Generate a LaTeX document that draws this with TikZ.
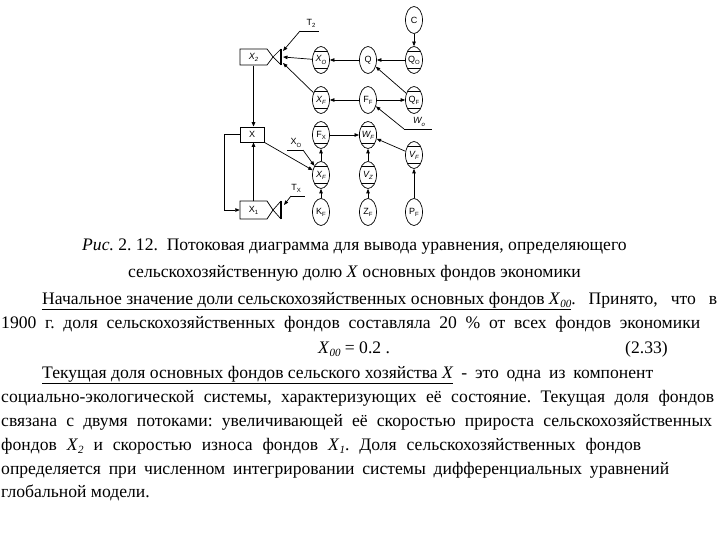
\documentclass[tikz,border=0pt]{standalone}
\usepackage{fontspec}
\setmainfont{Liberation Serif}
\setsansfont{Liberation Sans}
\usetikzlibrary{arrows.meta,shapes.geometric}
\newcommand\sbx[1]{\raisebox{-0.45ex}{\fontsize{6}{6}\selectfont #1}}
\newcommand\sbt[1]{\raisebox{-0.45ex}{\fontsize{11}{12}\selectfont\itshape #1}}
\newcommand\fitline[2]{\hbox to #1pt{#2}}
\frenchspacing
\begin{document}
\begin{tikzpicture}[x=1pt,y=-1pt,
  var/.style={ellipse,draw,line width=0.7pt,minimum width=17pt,minimum height=27pt,inner sep=0pt,font=\sffamily\fontsize{9}{9}\selectfont},
  aux/.style={var,path picture={
     \draw[line width=0.7pt] ([yshift=-5pt]path picture bounding box.north west) -- ([yshift=-5pt]path picture bounding box.north east);
     \draw[line width=0.7pt] ([yshift=5pt]path picture bounding box.south west) -- ([yshift=5pt]path picture bounding box.south east);}},
  lbl/.style={font=\sffamily\fontsize{9}{9}\selectfont,inner sep=0pt},
  box/.style={minimum width=27pt,minimum height=17pt,inner sep=0pt,font=\sffamily\fontsize{9}{9}\selectfont},
  arr/.style={-{Triangle[length=4.5pt,width=3.5pt]},line width=0.7pt},
  plain/.style={line width=0.7pt},
  txt/.style={anchor=base west,inner sep=0pt,font=\fontsize{17.6}{20}\selectfont\frenchspacing}
]
\useasboundingbox[fill=white] (0,0) rectangle (720,540);

% ---- levels and valves
\node[box] (x2) at (253.5,57) {\itshape X\sbx{2}};
\draw[plain] (240,49) -- (267,49) -- (273,57) -- (267,65) -- (240,65) -- cycle;
\draw[plain] (273,57) -- (281,49) (273,57) -- (281,65);
\draw[line width=1.3pt] (281,49) -- (281,65);
\coordinate (v2a) at (283,51);
\coordinate (v2) at (283,57);
\coordinate (v2b) at (283,63);

\node[draw,plain,minimum width=24pt,minimum height=15pt,inner sep=0pt,font=\sffamily\fontsize{9}{9}\selectfont] (x) at (252,134.5) {X};

\node[box] (x1) at (253.5,210) {X\sbx{1}};
\draw[plain] (240,201) -- (267,201) -- (273,210) -- (267,219) -- (240,219) -- cycle;
\draw[plain] (273,210) -- (281,201) (273,210) -- (281,219);
\draw[line width=1.3pt] (281,201) -- (281,219);
\coordinate (v1) at (284,205);

% ---- variables
\node[var] (c)  at (414,20) {C};
\node[aux] (qo) at (414,60) {Q\sbx{O}};
\node[var] (q)  at (368,60) {Q};
\node[aux] (xo) at (321,60) {\itshape X\sbx{O}};
\node[aux] (xf) at (321,100) {\itshape X\sbx{F}};
\node[var] (ff) at (368,100) {F\sbx{F}};
\node[aux] (qf) at (414,100) {Q\sbx{F}};
\node[aux] (fx) at (321,135) {F\sbx{X}};
\node[aux] (wf) at (368,135) {\itshape W\sbx{F}};
\node[aux] (vf) at (414,155) {\itshape V\sbx{F}};
\node[aux] (xf2) at (321,175) {\itshape X\sbx{F}};
\node[aux] (vz) at (368,175) {\itshape V\sbx{Z}};
\node[var] (kf) at (321,212) {K\sbx{F}};
\node[var] (zf) at (368,212) {Z\sbx{F}};
\node[var] (pf) at (414,212) {P\sbx{F}};

% ---- constants
\node[lbl] (t2) at (311,23) {T\sbx{2}};
\coordinate (t2a) at (300,31); \coordinate (t2b) at (319,31);
\draw[plain] (t2a) -- (t2b);
\node[lbl] (wo) at (419,122) {\itshape W\sbx{o}};
\coordinate (woa) at (404,129); \coordinate (wob) at (432,129);
\draw[plain] (woa) -- (wob);
\node[lbl] (xoc) at (296,143) {X\sbx{O}};
\coordinate (xoa) at (287,150); \coordinate (xob) at (303,150);
\draw[plain] (xoa) -- (xob);
\node[lbl] (tx) at (296,188) {T\sbx{X}};
\coordinate (txa) at (291,196); \coordinate (txb) at (305,196);
\draw[plain] (txa) -- (txb);

% ---- connectors
\draw[arr,line width=1.2pt] (x2.south) -- (x2.south |- x.north);
\draw[arr,line width=1.2pt] (x1.north) -- (x1.north |- x.south);
\draw[arr] (x.west) -- ++(-15,0) |- (x1.west);
\draw[arr] (x.south east) -- (xf2);
\draw[arr] (c) -- (qo);
\draw[arr] (qo) -- (q);
\draw[arr] (q) -- (xo);
\draw[arr] (xo) -- (v2);
\draw[arr] (xf) -- (v2b);
\draw[arr] (t2a) -- (v2a);
\draw[arr] (ff) -- (xf);
\draw[arr] (ff) -- (qf);
\draw[arr] (qf) -- (q);
\draw[arr] (woa) -- (ff);
\draw[arr] (xf2) -- (fx);
\draw[arr] (kf) -- (xf2);
\draw[arr] (xob) -- (xf2);
\draw[arr] (txa) -- (v1);
\draw[arr] (fx) -- (wf);
\draw[arr] (vz) -- (wf);
\draw[arr] (zf) -- (vz);
\draw[arr] (vf) -- (wf);
\draw[arr] (pf) -- (vf);

% ---- text
\node[txt] (l1) at (82,250) {\textit{Рис.} 2. 12.\ \ Потоковая диаграмма для вывода уравнения, определяющего};
\node[txt] (l2) at (128,277) {сельскохозяйственную долю \textit{X} основных фондов экономики};
\node[txt] (l3) at (42,304) {\fitline{675}{\underline{Начальное значение доли сельскохозяйственных основных фондов \textit{X}\sbt{00}}. Принято, что в}};
\node[txt] (l4) at (1,328) {\fitline{699}{1900 г. доля сельскохозяйственных фондов составляла 20 \% от всех фондов экономики}};
\node[txt] (l5) at (318,353) {\textit{X}\sbt{00} = 0.2 .};
\node[txt] (l5b) at (625,353) {(2.33)};
\node[txt] (l6) at (42,378) {\fitline{611}{\underline{Текущая доля основных фондов сельского хозяйства \textit{X}} - это одна из компонент}};
\node[txt] (l7) at (1,402) {\fitline{713}{социально-экологической системы, характеризующих её состояние. Текущая доля фондов}};
\node[txt] (l8) at (1,426) {\fitline{711}{связана с двумя потоками: увеличивающей её скоростью прироста сельскохозяйственных}};
\node[txt] (l9) at (1,450) {\fitline{640}{фондов \textit{X}\sbt{2} и скоростью износа фондов \textit{X}\sbt{1}. Доля сельскохозяйственных фондов}};
\node[txt] (l10) at (1,474) {\fitline{668}{определяется при численном интегрировании системы дифференциальных уравнений}};
\node[txt] (l11) at (1,497) {глобальной модели.};
\end{tikzpicture}
\end{document}
